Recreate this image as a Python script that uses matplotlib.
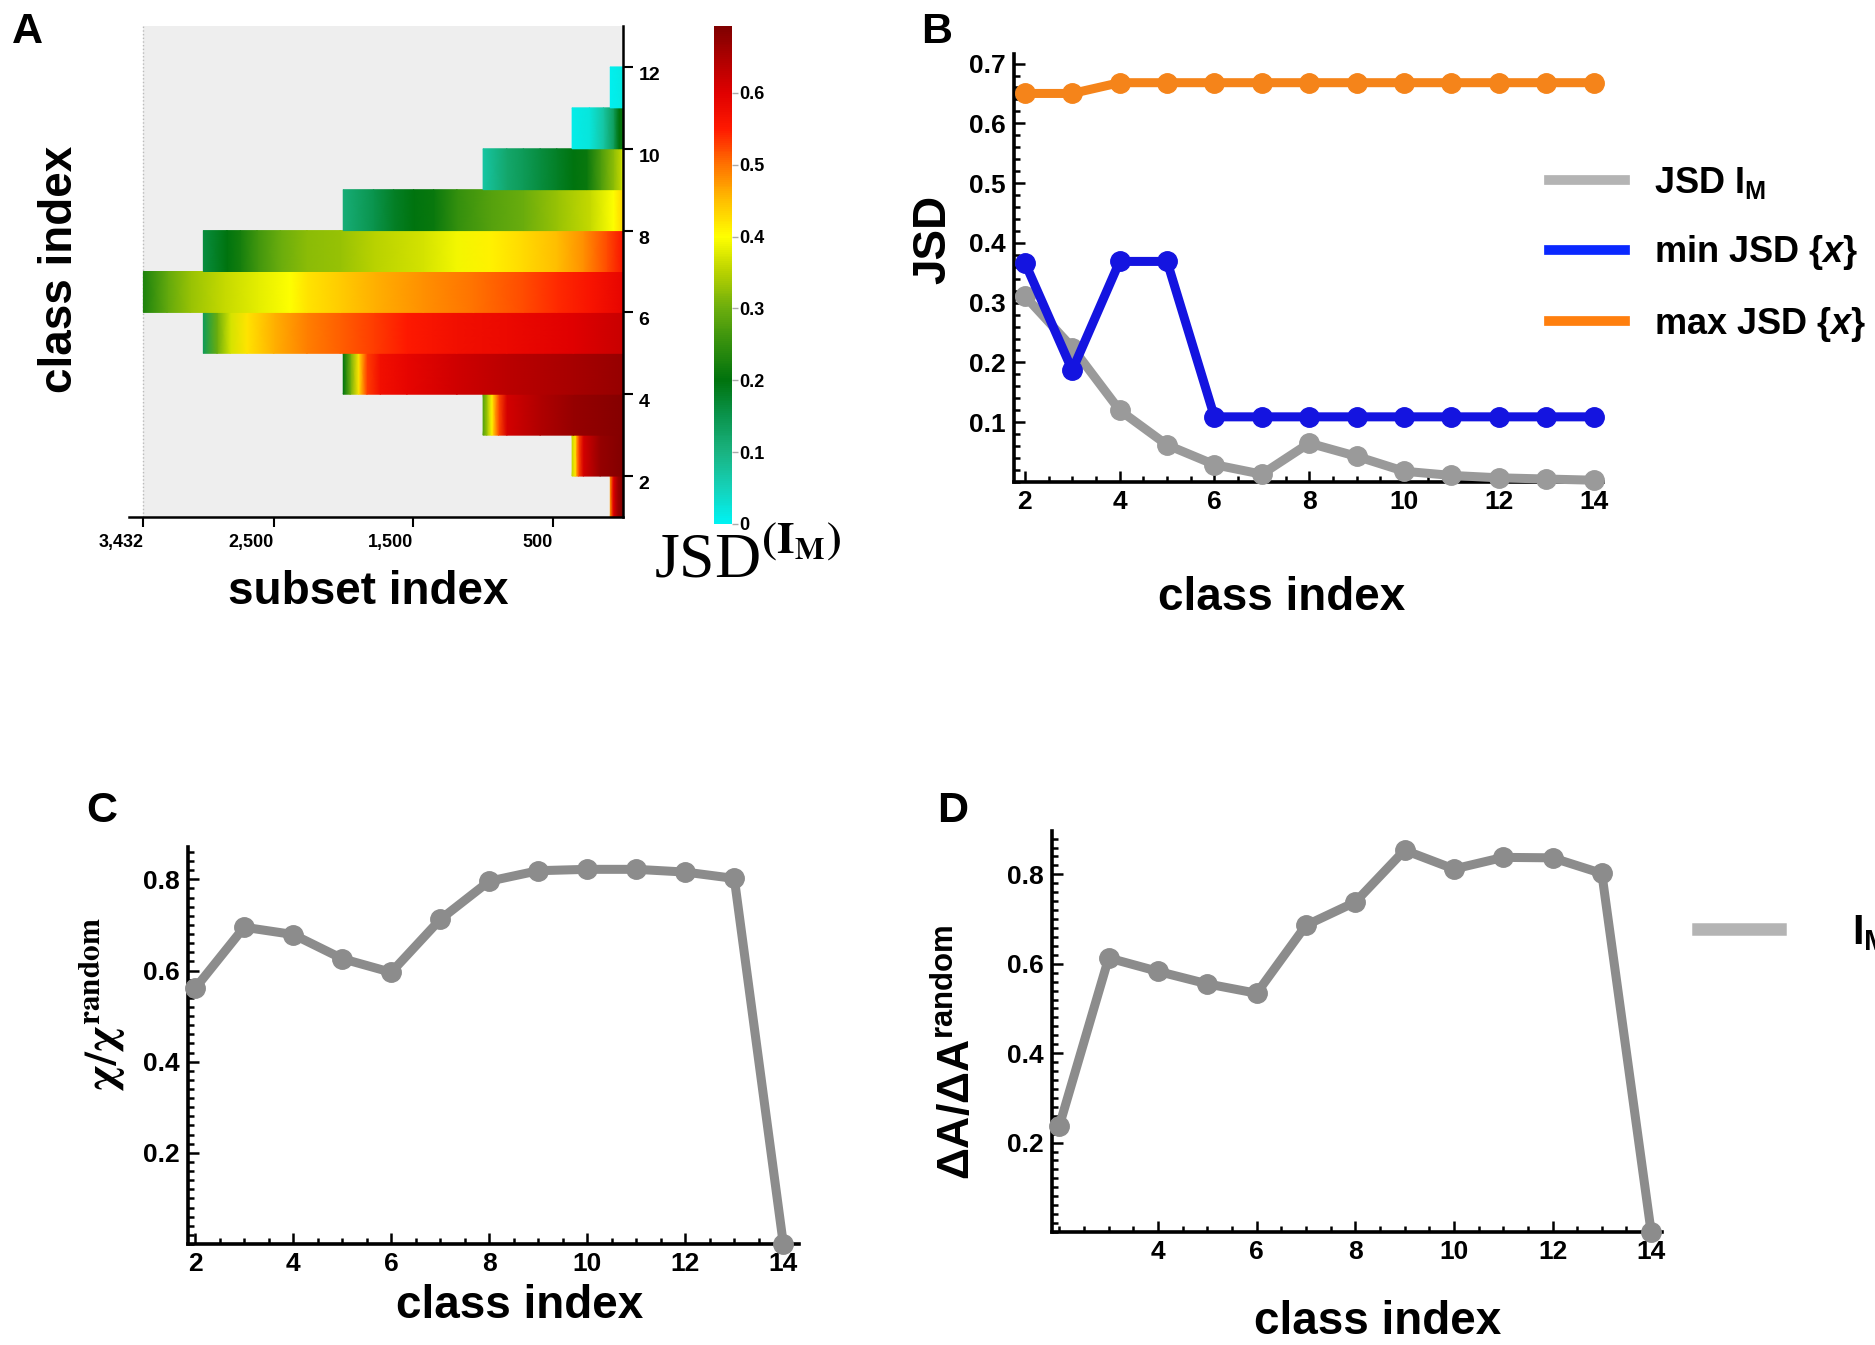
import numpy as np
import matplotlib
matplotlib.use('Agg')
import matplotlib.pyplot as plt
from matplotlib.colors import LinearSegmentedColormap
from matplotlib.lines import Line2D
from matplotlib.ticker import MultipleLocator

W, H = 1875, 1345

# ---- panel A: per class, JSD of every subset ranked (0 = best, at the right)
classes_a = [2, 3, 4, 5, 6, 7, 8, 9, 10, 11, 12]
subset_counts = [91, 364, 1001, 2002, 3003, 3432, 3003, 2002, 1001, 364, 91]
# sampled points of each ranked profile: subset index and JSD value
profile_rank = [
    [0, 40, 70, 91],                                                   # class 2
    [0, 164, 284, 319, 343, 364],                                      # class 3
    [0, 355, 593, 832, 891, 939, 975, 1001],                           # class 4
    [0, 355, 832, 1189, 1547, 1737, 1833, 1892, 1952, 2002],           # class 5
    [0, 355, 832, 1189, 1547, 1785, 2023, 2262, 2500, 2691, 2810, 2905, 3003],
    [0, 236, 474, 713, 1070, 1428, 1785, 2023, 2262, 2381, 2619, 2858, 3096, 3263, 3432],
    [0, 117, 284, 474, 713, 951, 1189, 1428, 1785, 2023, 2262, 2452, 2619, 2738, 2834, 3003],
    [0, 10, 69, 236, 474, 713, 951, 1189, 1356, 1499, 1642, 1785, 2002],
    [0, 21, 69, 164, 260, 355, 474, 593, 713, 832, 1001],               # class 10
    [0, 30, 70, 140, 240, 364],                                        # class 11
    [0, 91],                                                           # class 12
]
profile_jsd = [
    [0.69, 0.66, 0.60, 0.48],
    [0.69, 0.67, 0.61, 0.52, 0.42, 0.36],
    [0.685, 0.67, 0.645, 0.61, 0.52, 0.41, 0.33, 0.28],
    [0.67, 0.655, 0.635, 0.615, 0.59, 0.57, 0.53, 0.42, 0.30, 0.20],
    [0.62, 0.60, 0.58, 0.57, 0.55, 0.53, 0.51, 0.49, 0.46, 0.42, 0.37, 0.30, 0.14],
    [0.59, 0.56, 0.54, 0.52, 0.50, 0.48, 0.46, 0.44, 0.42, 0.40, 0.38, 0.36, 0.33, 0.29, 0.23],
    [0.56, 0.52, 0.48, 0.45, 0.43, 0.41, 0.39, 0.37, 0.35, 0.33, 0.32, 0.30, 0.26, 0.22, 0.20, 0.16],
    [0.45, 0.43, 0.40, 0.36, 0.33, 0.30, 0.28, 0.25, 0.21, 0.20, 0.18, 0.15, 0.11],
    [0.38, 0.35, 0.32, 0.27, 0.21, 0.20, 0.18, 0.16, 0.14, 0.12, 0.07],
    [0.21, 0.20, 0.13, 0.07, 0.02, 0.01],
    [0.015, 0.005],
]
jsd_max = 0.693
subset_ticks = [3432, 2500, 1500, 500]
cbar_ticks = [0, 0.1, 0.2, 0.3, 0.4, 0.5, 0.6]

# ---- panels B, C, D
classes = [2, 3, 4, 5, 6, 7, 8, 9, 10, 11, 12, 13, 14]
jsd_im = [0.311, 0.225, 0.12, 0.062, 0.029, 0.013, 0.065, 0.043, 0.018, 0.011, 0.007, 0.005, 0.003]
min_jsd = [0.367, 0.187, 0.369, 0.369, 0.109, 0.109, 0.109, 0.109, 0.109, 0.109, 0.109, 0.109, 0.109]
max_jsd = [0.65, 0.65, 0.668, 0.668, 0.668, 0.668, 0.668, 0.668, 0.668, 0.668, 0.668, 0.668, 0.668]
chi_ratio = [0.561, 0.695, 0.679, 0.626, 0.596, 0.712, 0.796, 0.819, 0.822, 0.822, 0.816, 0.802, 0.0]
dA_ratio = [0.238, 0.613, 0.583, 0.555, 0.534, 0.686, 0.738, 0.854, 0.812, 0.838, 0.837, 0.802, 0.0]

plt.rcParams.update({
    'font.family': ['Liberation Sans', 'DejaVu Sans'],
    'font.weight': 'bold',
    'mathtext.fontset': 'custom',
    'mathtext.rm': 'Liberation Sans:bold',
    'mathtext.it': 'Liberation Sans:italic:bold',
    'mathtext.bf': 'Liberation Sans:bold',
})
NARROW = ['Liberation Sans Narrow', 'Liberation Sans']


def box(x0, y0, x1, y1):
    # pixel box (top-left origin) -> figure fraction rect
    return [x0 / W, 1 - y1 / H, (x1 - x0) / W, (y1 - y0) / H]


def px(x, y):
    return x / W, 1 - y / H


fig = plt.figure(figsize=(W / 100, H / 100), dpi=100)

# ================= A =================
cmap = LinearSegmentedColormap.from_list('jsd', [
    (0.00, (0.00, 0.95, 0.95)),
    (0.05 / jsd_max, (0.08, 0.82, 0.72)),
    (0.10 / jsd_max, (0.10, 0.70, 0.50)),
    (0.15 / jsd_max, (0.04, 0.58, 0.30)),
    (0.20 / jsd_max, (0.00, 0.45, 0.05)),
    (0.25 / jsd_max, (0.20, 0.56, 0.05)),
    (0.30 / jsd_max, (0.42, 0.68, 0.05)),
    (0.35 / jsd_max, (0.72, 0.82, 0.00)),
    (0.40 / jsd_max, (1.00, 1.00, 0.00)),
    (0.45 / jsd_max, (1.00, 0.75, 0.00)),
    (0.50 / jsd_max, (1.00, 0.45, 0.00)),
    (0.55 / jsd_max, (1.00, 0.10, 0.00)),
    (0.60 / jsd_max, (0.88, 0.00, 0.00)),
    (1.00, (0.50, 0.00, 0.00)),
])

ax_a = fig.add_axes(box(129, 26, 623, 517))
ax_a.axvspan(0, max(subset_counts), color='#EEEEEE', lw=0, zorder=0)
ax_a.axvline(max(subset_counts), color='#BBBBBB', ls=':', lw=1, zorder=1)
for k, ranks, vals in zip(classes_a, profile_rank, profile_jsd):
    xr = np.array([ranks, ranks], dtype=float)
    yr = np.array([[k - 1] * len(ranks), [k] * len(ranks)], dtype=float)
    cr = np.array([vals, vals])
    mesh = ax_a.pcolormesh(xr, yr, cr, shading='gouraud', cmap=cmap,
                           vmin=0, vmax=jsd_max, zorder=2)
ax_a.set_xlim(3535, 0)
ax_a.set_ylim(1, 13)
ax_a.spines['left'].set_visible(False)
ax_a.spines['top'].set_visible(False)
ax_a.spines['bottom'].set_linewidth(1.8)
ax_a.spines['right'].set_linewidth(1.8)
ax_a.yaxis.tick_right()
ax_a.set_yticks([2, 4, 6, 8, 10, 12])
ax_a.set_xticks(subset_ticks)
ax_a.set_xticklabels([f'{t:,}' for t in subset_ticks])
ax_a.tick_params(axis='both', direction='out', length=7, width=1.5)
ax_a.tick_params(axis='y', labelsize=14, pad=4)
ax_a.tick_params(axis='x', labelsize=13, pad=5)
for lbl in ax_a.get_yticklabels():
    lbl.set_va('top')
for lbl in ax_a.get_xticklabels():
    lbl.set_fontfamily(NARROW)
    lbl.set_ha('right')

cax = fig.add_axes(box(714, 26, 732, 524))
cb = fig.colorbar(mesh, cax=cax)
cb.outline.set_visible(False)
cb.set_ticks(cbar_ticks)
cb.set_ticklabels([f'{t:g}' for t in cbar_ticks])
cb.ax.tick_params(labelsize=13, length=4, width=1, color='#AAAAAA', pad=1)

fig.text(*px(27, 32), 'A', fontsize=31, ha='center', va='center')
fig.text(*px(60, 269), 'class index', fontsize=33, rotation=90, ha='center', va='center')
fig.text(*px(368, 592), 'subset index', fontsize=33, ha='center', va='center')
fig.text(*px(748, 562), r'JSD$^{(\mathrm{I}_\mathrm{M})}$', fontfamily='Liberation Serif',
         fontweight='normal', math_fontfamily='stix', fontsize=46, ha='center', va='center')


def style_axes(ax, xlim, ylim, xticks, yticks):
    ax.set_xlim(xlim)
    ax.set_ylim(ylim)
    for s in ['top', 'right']:
        ax.spines[s].set_visible(False)
    for s in ['left', 'bottom']:
        ax.spines[s].set_linewidth(2.6)
    ax.set_xticks(xticks)
    ax.set_yticks(yticks)
    ax.set_yticklabels([f'{t:g}' for t in yticks])
    ax.xaxis.set_minor_locator(MultipleLocator(0.5))
    ax.yaxis.set_minor_locator(MultipleLocator(0.02))
    ax.tick_params(which='both', direction='in', width=1.8)
    ax.tick_params(which='major', length=8, labelsize=19, pad=6)
    ax.tick_params(which='minor', length=4)
    for lbl in ax.get_xticklabels() + ax.get_yticklabels():
        lbl.set_fontfamily(NARROW)


# ================= B =================
ax_b = fig.add_axes(box(1014, 54, 1603, 482))
ax_b.plot(classes, jsd_im, '-o', color='#9A9A9A', lw=6.5, ms=14, clip_on=False, zorder=3)
ax_b.plot(classes, min_jsd, '-o', color='#1414E0', lw=6.5, ms=14, clip_on=False, zorder=4)
ax_b.plot(classes, max_jsd, '-o', color='#F5841A', lw=6.5, ms=14, clip_on=False, zorder=4)
style_axes(ax_b, (1.77, 14.2), (0, 0.716), [2, 4, 6, 8, 10, 12, 14],
           [0.1, 0.2, 0.3, 0.4, 0.5, 0.6, 0.7])

handles = [Line2D([], [], color='#B4B4B4', lw=7),
           Line2D([], [], color='#0A28FF', lw=7),
           Line2D([], [], color='#FF7F0E', lw=7)]
fig.legend(handles, [r'JSD $\mathrm{I}_\mathrm{M}$', r'min JSD {$x$}', r'max JSD {$x$}'],
           loc='upper left', bbox_to_anchor=px(1549, 165), frameon=False,
           prop={'size': 26, 'weight': 'bold'}, handlelength=2.1, handletextpad=0.8,
           labelspacing=0.9, borderpad=0, borderaxespad=0)

fig.text(*px(937, 32), 'B', fontsize=31, ha='center', va='center')
fig.text(*px(933, 239), 'JSD', fontsize=33, rotation=90, ha='center', va='center')
fig.text(*px(1282, 598), 'class index', fontsize=33, ha='center', va='center')

# ================= C =================
ax_c = fig.add_axes(box(188, 847, 799, 1244))
ax_c.plot(classes, chi_ratio, '-o', color='#8C8C8C', lw=6.5, ms=14, clip_on=False, zorder=3)
style_axes(ax_c, (1.854, 14.32), (0, 0.871), [2, 4, 6, 8, 10, 12, 14], [0.2, 0.4, 0.6, 0.8])

fig.text(*px(102, 811), 'C', fontsize=31, ha='center', va='center')
fig.text(*px(102, 1005), r'$\mathbf{\chi/\chi}^{\mathbf{random}}$', math_fontfamily='stix',
         fontsize=32, rotation=90, ha='center', va='center')
fig.text(*px(520, 1306), 'class index', fontsize=33, ha='center', va='center')

# ================= D =================
ax_d = fig.add_axes(box(1052, 831, 1662, 1232))
ax_d.plot(classes, dA_ratio, '-o', color='#8C8C8C', lw=6.5, ms=14, clip_on=False, zorder=3)
style_axes(ax_d, (1.85, 14.22), (0, 0.897), [4, 6, 8, 10, 12, 14], [0.2, 0.4, 0.6, 0.8])

fig.legend([Line2D([], [], color='#B4B4B4', lw=9)], [r'$\mathrm{I}_\mathrm{M}$'],
           loc='center left', bbox_to_anchor=px(1698, 933), frameon=False,
           prop={'size': 30, 'weight': 'bold'}, handlelength=1.97, handletextpad=1.73,
           borderpad=0, borderaxespad=0)

fig.text(*px(953, 811), 'D', fontsize=31, ha='center', va='center')
fig.text(*px(957, 1052), 'ΔA/ΔA$^{\\mathrm{random}}$', fontsize=32, rotation=90,
         ha='center', va='center')
fig.text(*px(1378, 1322), 'class index', fontsize=33, ha='center', va='center')

fig.savefig('out.png', dpi=100)
